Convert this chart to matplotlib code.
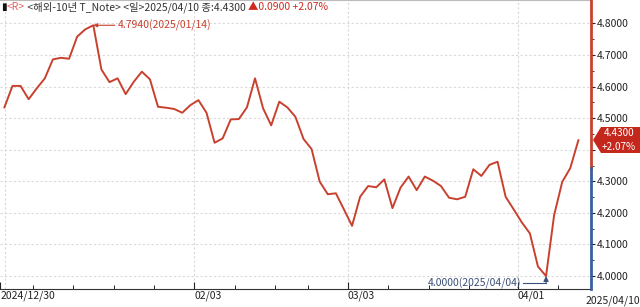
import matplotlib
matplotlib.use("Agg")
import matplotlib.pyplot as plt
from matplotlib.patches import Polygon
from matplotlib.lines import Line2D

plt.rcParams['font.family'] = ['Noto Sans CJK KR', 'DejaVu Sans']

# Daily close, 2024/12/30 .. 2025/04/10 (US 10Y T-Note yield, %)
values = [4.534, 4.602, 4.602, 4.560, 4.594, 4.626, 4.686, 4.691, 4.688, 4.758,
          4.781, 4.794, 4.654, 4.614, 4.626, 4.576, 4.615, 4.647, 4.623, 4.536,
          4.533, 4.529, 4.517, 4.541, 4.557, 4.517, 4.422, 4.436, 4.496, 4.497,
          4.534, 4.626, 4.531, 4.477, 4.552, 4.534, 4.504, 4.434, 4.402, 4.299,
          4.259, 4.262, 4.211, 4.159, 4.251, 4.285, 4.281, 4.306, 4.215, 4.280,
          4.315, 4.272, 4.315, 4.302, 4.285, 4.248, 4.243, 4.251, 4.338, 4.317,
          4.352, 4.362, 4.251, 4.211, 4.170, 4.135, 4.030, 4.000, 4.193, 4.298,
          4.342, 4.430]

# x-axis labels sit half a day before the first bar of the period
tick_pos = [-0.5, 23.5, 42.5, 63.5]
tick_labels = ["2024/12/30", "02/03", "03/03", "04/01"]
minor_pos = [3.5, 8.5, 13.5, 18.5, 28.5, 33.5, 37.5, 47.5, 52.5, 57.5, 68.5]
last_date = "2025/04/10"

y_ticks = [4.0, 4.1, 4.2, 4.3, 4.4, 4.5, 4.6, 4.7, 4.8]

hi_idx, hi_txt = 11, "4.7940(2025/01/14)"
lo_idx, lo_txt = 67, "4.0000(2025/04/04)"

RED = "#c8412f"
BLUE = "#3a5f9a"
GRID = "#d9d9d9"

fig = plt.figure(figsize=(6.4, 3.07), dpi=100)
ax = fig.add_axes([0, 18 / 307, 591 / 640, 289 / 307])

x = list(range(len(values)))
ax.plot(x, values, color=RED, linewidth=1.4, zorder=3)

ax.set_xlim(-0.544, 72.56)
ax.set_ylim(3.959, 4.874)

# y axis on the right; the 4.4 label is covered by the last-value tag
ax.yaxis.tick_right()
ax.set_yticks(y_ticks)
ax.set_yticklabels(["" if abs(v - 4.4) < 1e-9 else f"{v:.4f}" for v in y_ticks])
ax.set_yticks([v + 0.05 for v in y_ticks[:-1]], minor=True)
ax.tick_params(axis='y', which='major', length=3, width=0.8, pad=1,
               labelsize=7.5, colors='#222222')
ax.tick_params(axis='y', which='minor', length=2, width=0.6, color='#222222')

# x axis
ax.set_xticks(tick_pos)
ax.set_xticklabels(tick_labels)
for lab in ax.get_xticklabels():
    lab.set_horizontalalignment('left')
ax.set_xticks(minor_pos, minor=True)
ax.tick_params(axis='x', which='major', length=5, width=0.8, pad=1,
               labelsize=7.5, colors='#222222', direction='in')
ax.tick_params(axis='x', which='minor', length=3, width=0.7,
               color='#222222', direction='in')
fig.text(1.0, 0.003, last_date, ha='right', va='bottom', fontsize=7.5,
         color='#222222')

# grid
for v in y_ticks:
    ax.axhline(v, color=GRID, linestyle=(0, (2, 2)), linewidth=0.8, zorder=1)
for p in tick_pos[1:]:
    ax.axvline(p, color=GRID, linestyle=(0, (2, 2)), linewidth=0.8, zorder=1)
ax.axvline(0.1, color=GRID, linestyle=(0, (2, 2)), linewidth=0.8, zorder=1)

# spines
ax.spines['left'].set_visible(False)
ax.spines['top'].set_color('#bbbbbb')
ax.spines['bottom'].set_color('#333333')
ax.spines['right'].set_visible(False)
split = (289 - 168) / 289
ax.add_line(Line2D([1, 1], [split, 1], transform=ax.transAxes, color=RED,
                   linewidth=2, clip_on=False, zorder=5))
ax.add_line(Line2D([1, 1], [0, split], transform=ax.transAxes, color=BLUE,
                   linewidth=2, clip_on=False, zorder=5))

# high / low marks
ax.annotate(hi_txt, xy=(hi_idx, values[hi_idx]), xytext=(14.0, values[hi_idx]),
            ha='left', va='center', fontsize=7.5, color=RED,
            arrowprops=dict(arrowstyle='-|>,head_length=0.3,head_width=0.15',
                            color=RED, linewidth=0.8, shrinkA=0, shrinkB=0))
lo_y = 3.978
ax.text(63.9, lo_y, lo_txt, ha='right', va='center', fontsize=7.5,
        color='#3c4f78')
ax.annotate("", xy=(lo_idx, values[lo_idx]), xytext=(lo_idx, lo_y),
            arrowprops=dict(arrowstyle='-|>,head_length=0.3,head_width=0.15',
                            color='#3c4f78', linewidth=0.8, shrinkA=0, shrinkB=0))
ax.plot([64.1, lo_idx], [lo_y, lo_y], color='#3c4f78', linewidth=0.8)

# last value tag on the right axis
def fy(py):
    return 1 - py / 307

tag = Polygon([(593 / 640, fy(140)), (601 / 640, fy(127)), (1.0, fy(127)),
               (1.0, fy(153)), (601 / 640, fy(153))],
              closed=True, transform=fig.transFigure, facecolor='#c4281c',
              edgecolor='none', zorder=10)
fig.patches.append(tag)
fig.text(619 / 640, fy(133.5), f"{values[-1]:.4f}", ha='center', va='center',
         fontsize=7.2, color='white', zorder=11)
fig.text(619 / 640, fy(146.5), "+2.07%", ha='center', va='center',
         fontsize=7.2, color='white', zorder=11)

# header line, pieces chained left to right
parts = [("▮", '#111111'), ("<R>", '#e06060'),
         (" <해외-10년 T_Note> <일>2025/04/10 종:4.4300 ", '#333333'),
         ("▲0.0900 +2.07%", '#d02a20')]
prev = fig.text(1 / 640, fy(7), parts[0][0], ha='left', va='center',
                fontsize=7.5, color=parts[0][1])
for s, c in parts[1:]:
    prev = ax.annotate(s, xy=(1, 0.5), xycoords=prev, ha='left', va='center',
                       fontsize=7.5, color=c, annotation_clip=False)

fig.savefig("out.png", dpi=100)
